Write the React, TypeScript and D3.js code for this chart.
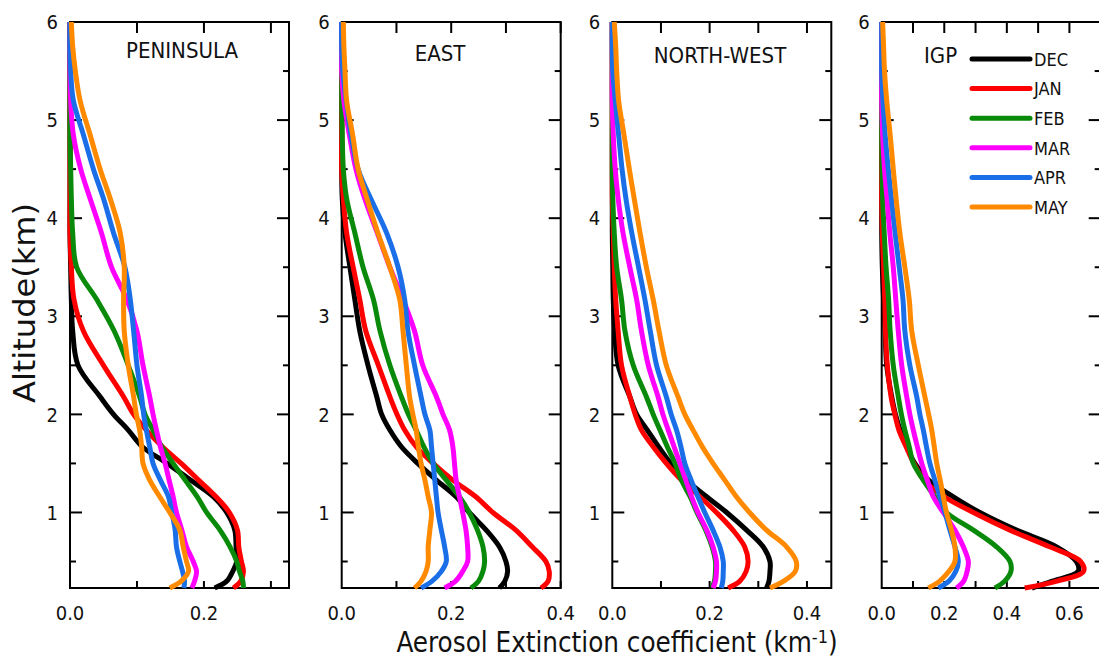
import React from "react";
import * as d3 from "d3";

// Altitude levels (km) shared by every profile, bottom to top
const ALTITUDE_KM = [
  0.23, 0.3, 0.4, 0.5, 0.65, 0.82, 1.0, 1.16, 1.33, 1.5, 1.67, 1.84, 2.0,
  2.18, 2.5, 2.85, 3.17, 3.5, 3.85, 4.2, 4.5, 4.85, 5.2, 5.5, 5.75, 6.0,
];

const MONTHS = ["DEC", "JAN", "FEB", "MAR", "APR", "MAY"];
const REGIONS = ["PENINSULA", "EAST", "NORTH-WEST", "IGP"];

// Extinction coefficient (km^-1), one row per month in MONTHS order
const PENINSULA = [
  [0.216, 0.234, 0.243, 0.249, 0.248, 0.246, 0.234, 0.214, 0.18, 0.145, 0.108, 0.087, 0.065, 0.045, 0.012, 0.004, 0.002, 0.001, 0, 0, 0, 0, 0, 0, 0, 0],
  [0.244, 0.255, 0.259, 0.256, 0.252, 0.25, 0.238, 0.218, 0.192, 0.166, 0.138, 0.114, 0.095, 0.08, 0.05, 0.02, 0.006, 0.002, 0, 0, 0, 0, 0, 0, 0, 0],
  [0.259, 0.258, 0.253, 0.249, 0.239, 0.224, 0.204, 0.19, 0.172, 0.154, 0.137, 0.124, 0.112, 0.104, 0.087, 0.066, 0.04, 0.01, 0.004, 0.002, 0.001, 0, 0, 0, 0, 0],
  [0.182, 0.186, 0.189, 0.184, 0.174, 0.167, 0.159, 0.154, 0.148, 0.142, 0.135, 0.129, 0.124, 0.119, 0.109, 0.1, 0.085, 0.062, 0.047, 0.03, 0.016, 0.005, 0.001, 0, 0, 0],
  [0.17, 0.171, 0.168, 0.164, 0.159, 0.157, 0.152, 0.147, 0.135, 0.124, 0.119, 0.114, 0.11, 0.107, 0.1, 0.095, 0.09, 0.082, 0.065, 0.05, 0.035, 0.02, 0.005, 0.001, 0, 0],
  [0.149, 0.166, 0.177, 0.174, 0.169, 0.164, 0.149, 0.134, 0.119, 0.109, 0.107, 0.104, 0.099, 0.095, 0.087, 0.081, 0.08, 0.081, 0.075, 0.06, 0.045, 0.03, 0.015, 0.008, 0.004, 0.002],
];

const EAST = [
  [0.288, 0.298, 0.303, 0.3, 0.288, 0.264, 0.233, 0.209, 0.173, 0.139, 0.109, 0.088, 0.073, 0.064, 0.048, 0.033, 0.024, 0.015, 0.006, 0.001, 0, 0, 0, 0, 0, 0],
  [0.364, 0.377, 0.379, 0.373, 0.348, 0.318, 0.276, 0.245, 0.203, 0.167, 0.136, 0.115, 0.101, 0.088, 0.067, 0.044, 0.033, 0.021, 0.009, 0.003, 0, 0, 0, 0, 0, 0],
  [0.236, 0.25, 0.258, 0.261, 0.258, 0.248, 0.233, 0.215, 0.191, 0.167, 0.15, 0.136, 0.122, 0.109, 0.088, 0.07, 0.058, 0.039, 0.024, 0.009, 0.003, 0.001, 0, 0, 0, 0],
  [0.188, 0.208, 0.221, 0.23, 0.23, 0.227, 0.221, 0.215, 0.209, 0.206, 0.203, 0.197, 0.185, 0.173, 0.148, 0.133, 0.112, 0.088, 0.065, 0.042, 0.026, 0.014, 0.004, 0, 0, 0],
  [0.145, 0.165, 0.182, 0.191, 0.188, 0.182, 0.176, 0.173, 0.17, 0.167, 0.164, 0.161, 0.152, 0.145, 0.133, 0.121, 0.115, 0.103, 0.082, 0.053, 0.03, 0.017, 0.008, 0.002, 0, 0],
  [0.133, 0.145, 0.154, 0.158, 0.158, 0.161, 0.164, 0.158, 0.152, 0.145, 0.14, 0.136, 0.13, 0.124, 0.118, 0.112, 0.106, 0.088, 0.066, 0.046, 0.03, 0.02, 0.009, 0.006, 0.004, 0.003],
];

const NORTH_WEST = [
  [0.317, 0.322, 0.324, 0.324, 0.31, 0.276, 0.235, 0.194, 0.152, 0.12, 0.095, 0.072, 0.05, 0.036, 0.012, 0.005, 0.002, 0.001, 0, 0, 0, 0, 0, 0, 0, 0],
  [0.238, 0.262, 0.275, 0.279, 0.272, 0.248, 0.214, 0.18, 0.142, 0.111, 0.084, 0.06, 0.047, 0.036, 0.019, 0.012, 0.007, 0.004, 0.002, 0, 0, 0, 0, 0, 0, 0],
  [0.205, 0.21, 0.212, 0.212, 0.205, 0.192, 0.174, 0.16, 0.142, 0.129, 0.113, 0.098, 0.084, 0.07, 0.043, 0.026, 0.019, 0.009, 0.004, 0.001, 0, 0, 0, 0, 0, 0],
  [0.207, 0.212, 0.214, 0.214, 0.207, 0.194, 0.176, 0.163, 0.151, 0.139, 0.127, 0.115, 0.104, 0.094, 0.074, 0.06, 0.05, 0.036, 0.022, 0.012, 0.006, 0.002, 0, 0, 0, 0],
  [0.224, 0.227, 0.228, 0.228, 0.221, 0.207, 0.19, 0.176, 0.162, 0.149, 0.141, 0.132, 0.121, 0.111, 0.091, 0.078, 0.067, 0.054, 0.04, 0.028, 0.02, 0.013, 0.006, 0.001, 0, 0],
  [0.324, 0.352, 0.376, 0.378, 0.358, 0.317, 0.282, 0.255, 0.231, 0.207, 0.185, 0.166, 0.149, 0.135, 0.111, 0.096, 0.084, 0.07, 0.057, 0.045, 0.035, 0.024, 0.013, 0.009, 0.007, 0.004],
];

const IGP = [
  [0.48, 0.545, 0.628, 0.622, 0.559, 0.431, 0.314, 0.229, 0.15, 0.106, 0.08, 0.059, 0.044, 0.032, 0.016, 0.011, 0.006, 0.002, 0, 0, 0, 0, 0, 0, 0, 0],
  [0.457, 0.56, 0.645, 0.636, 0.537, 0.41, 0.293, 0.2, 0.135, 0.103, 0.078, 0.055, 0.042, 0.03, 0.018, 0.012, 0.01, 0.006, 0.002, 0, 0, 0, 0, 0, 0, 0],
  [0.362, 0.393, 0.413, 0.41, 0.367, 0.293, 0.207, 0.17, 0.133, 0.101, 0.088, 0.074, 0.063, 0.053, 0.037, 0.027, 0.022, 0.014, 0.008, 0.003, 0.001, 0, 0, 0, 0, 0],
  [0.239, 0.262, 0.273, 0.277, 0.261, 0.234, 0.197, 0.165, 0.146, 0.128, 0.114, 0.101, 0.09, 0.08, 0.064, 0.053, 0.045, 0.037, 0.026, 0.017, 0.009, 0.003, 0, 0, 0, 0],
  [0.181, 0.215, 0.237, 0.245, 0.234, 0.218, 0.202, 0.186, 0.17, 0.154, 0.143, 0.133, 0.122, 0.112, 0.09, 0.074, 0.068, 0.056, 0.043, 0.031, 0.021, 0.011, 0.004, 0, 0, 0],
  [0.149, 0.185, 0.215, 0.234, 0.234, 0.223, 0.207, 0.197, 0.187, 0.176, 0.168, 0.16, 0.15, 0.138, 0.117, 0.096, 0.088, 0.074, 0.058, 0.046, 0.037, 0.027, 0.016, 0.009, 0.006, 0.003],
];

const REGION_DATA = [PENINSULA, EAST, NORTH_WEST, IGP];

// Upper bound of each panel's extinction axis and the labelled ticks
const X_MAX = [0.327, 0.4, 0.45, 0.7];
const X_LABELLED_TICKS = [
  [0, 0.2],
  [0, 0.2, 0.4],
  [0, 0.2, 0.4],
  [0, 0.2, 0.4, 0.6],
];
const Y_LABELLED_TICKS = [1, 2, 3, 4, 5, 6];

// Styling / layout
const COLORS = ["#000000", "#ff0000", "#0a8a0a", "#ff00ff", "#1a6fe8", "#ff8a00"];
const FONT = "'DejaVu Sans Condensed', 'DejaVu Sans', sans-serif";
const PANEL_LEFT = [70, 341.7, 612.3, 881.7];
const PANEL_W = 219;
const PLOT_TOP = 22;
const PLOT_BOTTOM = 588;
const TITLE_POS = [
  { x: 182, y: 58, anchor: "middle" },
  { x: 440, y: 61, anchor: "middle" },
  { x: 720, y: 63, anchor: "middle" },
  { x: 924, y: 63, anchor: "start" },
];

const yScale = d3
  .scaleLinear()
  .domain([ALTITUDE_KM[0], ALTITUDE_KM[ALTITUDE_KM.length - 1]])
  .range([PLOT_BOTTOM, PLOT_TOP]);

function Panel({ index }: { index: number }) {
  const left = PANEL_LEFT[index];
  const right = left + PANEL_W;
  const x = d3.scaleLinear().domain([0, X_MAX[index]]).range([left, right]);
  const line = d3
    .line<number>()
    .x((v) => x(v))
    .y((_, j) => yScale(ALTITUDE_KM[j]))
    .curve(d3.curveCatmullRom.alpha(0.5));

  const xTicks = d3.range(0.1, X_MAX[index] + 1e-9, 0.1);
  const yTicks = d3.range(0.5, 6, 0.5);
  const title = TITLE_POS[index];

  return (
    <g>
      <rect
        x={left}
        y={PLOT_TOP}
        width={PANEL_W}
        height={PLOT_BOTTOM - PLOT_TOP}
        fill="none"
        stroke="#000"
        strokeWidth={2}
      />
      {xTicks.map((t) => (
        <g key={"xt" + t}>
          <line x1={x(t)} x2={x(t)} y1={PLOT_TOP} y2={PLOT_TOP + 11} stroke="#000" strokeWidth={2} />
          <line x1={x(t)} x2={x(t)} y1={PLOT_BOTTOM} y2={PLOT_BOTTOM - 7} stroke="#000" strokeWidth={2} />
        </g>
      ))}
      {yTicks.map((t) => {
        const len = Number.isInteger(t) ? 12 : 6;
        return (
          <g key={"yt" + t}>
            <line x1={left} x2={left + len} y1={yScale(t)} y2={yScale(t)} stroke="#000" strokeWidth={2} />
            <line x1={right} x2={right - len} y1={yScale(t)} y2={yScale(t)} stroke="#000" strokeWidth={2} />
          </g>
        );
      })}
      {REGION_DATA[index].map((series, k) => (
        <path
          key={MONTHS[k]}
          d={line(series) || ""}
          fill="none"
          stroke={COLORS[k]}
          strokeWidth={5}
          strokeLinejoin="round"
        />
      ))}
      {Y_LABELLED_TICKS.map((t) => (
        <text
          key={"yl" + t}
          x={left - 12}
          y={yScale(t)}
          dy="0.36em"
          textAnchor="end"
          fontSize={20}
          fontFamily={FONT}
          fill="#111"
        >
          {t}
        </text>
      ))}
      {X_LABELLED_TICKS[index].map((t) => (
        <text
          key={"xl" + t}
          x={x(t)}
          y={620}
          textAnchor="middle"
          fontSize={20}
          fontFamily={FONT}
          fill="#111"
        >
          {d3.format(".1f")(t)}
        </text>
      ))}
      <text
        x={title.x}
        y={title.y}
        textAnchor={title.anchor as any}
        fontSize={22}
        fontFamily={FONT}
        fill="#111"
      >
        {REGIONS[index]}
      </text>
    </g>
  );
}

function Legend() {
  const x0 = 972;
  const x1 = 1030;
  const rowY = d3.scaleLinear().domain([0, 1]).range([59, 88.6]);
  return (
    <g>
      {MONTHS.map((m, k) => (
        <g key={m}>
          <line
            x1={x0}
            x2={x1}
            y1={rowY(k)}
            y2={rowY(k)}
            stroke={COLORS[k]}
            strokeWidth={5}
            strokeLinecap="round"
          />
          <text x={x1 + 4} y={rowY(k)} dy="0.38em" fontSize={18} fontFamily={FONT} fill="#111">
            {m}
          </text>
        </g>
      ))}
    </g>
  );
}

export default function App() {
  return (
    <svg
      width={1099}
      height={661}
      viewBox="0 0 1099 661"
      style={{ position: "absolute", left: 0, top: 0, display: "block", background: "#fff" }}
    >
      <rect x={0} y={0} width={1099} height={661} fill="#fff" />
      {REGIONS.map((r, i) => (
        <Panel key={r} index={i} />
      ))}
      <Legend />
      <text
        transform="translate(35,303) rotate(-90)"
        textAnchor="middle"
        fontSize={30}
        fontFamily={FONT}
        fill="#111"
        textLength={200}
        lengthAdjust="spacingAndGlyphs"
      >
        Altitude(km)
      </text>
      <text x={617} y={652} textAnchor="middle" fontSize={27.5} fontFamily={FONT} fill="#111">
        Aerosol Extinction coefficient (km
        <tspan dy={-9} fontSize={18}>-1</tspan>
        <tspan dy={9}>)</tspan>
      </text>
    </svg>
  );
}
